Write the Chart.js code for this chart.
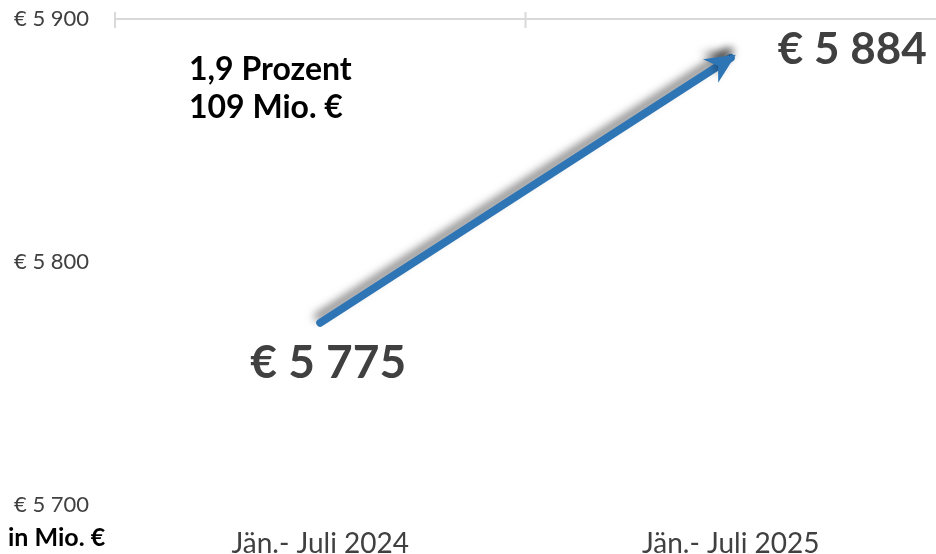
<!DOCTYPE html>
<html>
<head>
<meta charset="utf-8">
<script src="https://cdn.jsdelivr.net/npm/chart.js@4/dist/chart.umd.min.js"></script>
<style>
  html, body { margin: 0; padding: 0; background: #fff; }
  #wrap { width: 936px; height: 554px; position: relative; }
</style>
</head>
<body>
<div id="wrap"><canvas id="umsatz"></canvas></div>
<script>
const kategorien = ["Jän.- Juli 2024", "Jän.- Juli 2025"];
const werte = [5775, 5884];
const yTicks = [5700, 5800, 5900];
const einheit = "in Mio. €";

const fmt = (v) => "€ " + Math.floor(v / 1000) + " " + String(v % 1000).padStart(3, "0");
const diff = werte[1] - werte[0];
const prozent = ((diff / werte[0]) * 100).toFixed(1).replace(".", ",");

const blau = "#2E75B6";
const grau = "#404040";

// Schatten + Pfeilspitze + Beschriftungen
const pfeil = {
  id: "pfeil",
  beforeDatasetDraw(chart) {
    const c = chart.ctx;
    c.save();
    c.shadowColor = "rgba(0,0,0,0.5)";
    c.shadowBlur = 9;
    c.shadowOffsetX = -2;
    c.shadowOffsetY = -6;
  },
  afterDatasetDraw(chart) {
    const c = chart.ctx;
    const pts = chart.getDatasetMeta(0).data;
    const a = pts[0], b = pts[pts.length - 1];
    const ang = Math.atan2(b.y - a.y, b.x - a.x);
    const tipX = b.x + Math.cos(ang) * 6, tipY = b.y + Math.sin(ang) * 6;
    const len = 30, half = 14, notch = 9;
    const bx = tipX - Math.cos(ang) * len, by = tipY - Math.sin(ang) * len;
    const nx = tipX - Math.cos(ang) * (len - notch), ny = tipY - Math.sin(ang) * (len - notch);
    const px = -Math.sin(ang) * half, py = Math.cos(ang) * half;
    c.beginPath();
    c.moveTo(tipX, tipY);
    c.lineTo(bx + px, by + py);
    c.lineTo(nx, ny);
    c.lineTo(bx - px, by - py);
    c.closePath();
    c.fillStyle = blau;
    c.fill();
    c.restore();
  },
  afterDraw(chart) {
    const c = chart.ctx;
    const pts = chart.getDatasetMeta(0).data;
    const x = chart.scales.x, y = chart.scales.y;
    c.save();
    // kleine Teilstriche an der oberen Gitterlinie
    c.strokeStyle = "#d9d9d9";
    c.lineWidth = 2;
    const top = y.getPixelForValue(yTicks[yTicks.length - 1]);
    const grenzen = [chart.chartArea.left, (x.getPixelForValue(0) + x.getPixelForValue(1)) / 2];
    grenzen.forEach((gx) => {
      c.beginPath();
      c.moveTo(gx, top - 7);
      c.lineTo(gx, top + 9);
      c.stroke();
    });
    // Datenbeschriftungen
    c.fillStyle = grau;
    c.textBaseline = "middle";
    c.textAlign = "center";
    c.font = "bold 46px Lato";
    c.fillText(fmt(werte[0]), pts[0].x + 8, pts[0].y + 40);
    c.textAlign = "left";
    c.font = "bold 44px Lato";
    c.fillText(fmt(werte[1]), pts[1].x + 47, pts[1].y - 8);
    // Veränderung
    c.fillStyle = "#000";
    c.font = "bold 32px Lato";
    c.fillText(prozent + " Prozent", 189, 70);
    c.fillText(diff + " Mio. €", 189, 108);
    // Einheit
    c.font = "bold 25px Lato";
    c.fillText(einheit, 8, 538);
    c.restore();
  }
};

const ctx = document.getElementById("umsatz").getContext("2d");
const chart_umsatz = new Chart(ctx, {
  type: "line",
  data: {
    labels: kategorien,
    datasets: [
      {
        data: werte,
        borderColor: blau,
        borderWidth: 8,
        borderCapStyle: "round",
        tension: 0,
        pointRadius: 0,
        clip: false,
      },
    ],
  },
  options: {
    responsive: true,
    maintainAspectRatio: false,
    animation: false,
    layout: { padding: { left: 14, top: 19, right: 0, bottom: 0 } },
    plugins: {
      legend: { display: false },
      tooltip: { enabled: false },
    },
    scales: {
      x: {
        offset: true,
        grid: { display: false, drawTicks: false },
        border: { display: false },
        ticks: {
          color: grau,
          font: { family: "Lato", size: 28 },
          padding: 22,
        },
        afterFit: (s) => { s.height = 49; },
      },
      y: {
        min: yTicks[0],
        max: yTicks[yTicks.length - 1],
        afterBuildTicks: (s) => { s.ticks = yTicks.map((v) => ({ value: v })); },
        grid: {
          color: (c) => (c.tick && c.tick.value === yTicks[yTicks.length - 1] ? "#d9d9d9" : "transparent"),
          lineWidth: 2,
          drawTicks: false,
        },
        border: { display: false },
        ticks: {
          color: grau,
          crossAlign: "far",
          font: { family: "Lato", size: 22 },
          callback: (v) => fmt(v),
        },
        afterFit: (s) => { s.width = 101; },
      },
    },
  },
  plugins: [pfeil],
});
</script>
</body>
</html>
